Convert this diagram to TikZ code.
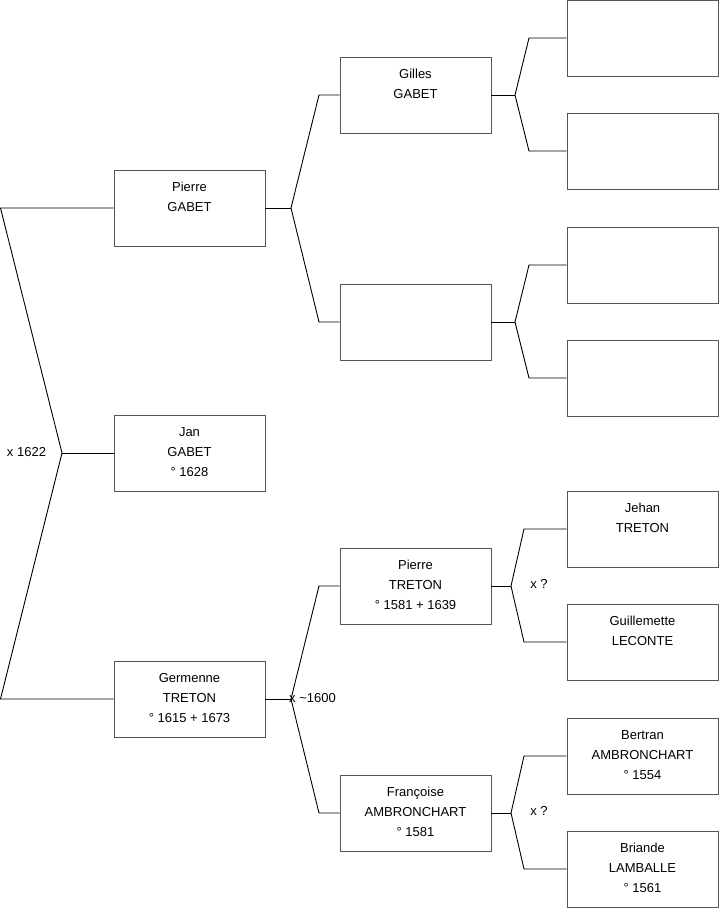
\documentclass[tikz,border=0pt]{standalone}
\usepackage{fontspec}
\setmainfont{Liberation Sans}
\definecolor{boxgray}{HTML}{555555}
\newcommand\famtxt[1]{\begin{minipage}[c][76pt][t]{151pt}\centering\fontsize{13pt}{20pt}\selectfont\rule{0pt}{21pt}#1\end{minipage}}
\begin{document}
\begin{tikzpicture}[x=1pt,y=-1pt,
  fam/.style={draw=boxgray, line width=0.9pt, inner sep=0pt, minimum width=151pt, minimum height=76pt},
  conn/.style={draw=black, line width=0.9pt},
  lab/.style={inner sep=0pt, font=\fontsize{13pt}{16pt}\selectfont}]
\useasboundingbox (0,0) rectangle (719,908);
% generation 1
\node[fam] (p1) at (189.5,208) {\famtxt{Pierre\\GABET}};
\node[fam] (p0) at (189.5,453) {\famtxt{Jan\\GABET\\° 1628}};
\node[fam] (m1) at (189.5,699) {\famtxt{Germenne\\TRETON\\° 1615 + 1673}};
% generation 2
\node[fam] (pp) at (415.5,95) {\famtxt{Gilles\\GABET}};
\node[fam] (pm) at (415.5,322) {};
\node[fam] (mp) at (415.5,586) {\famtxt{Pierre\\TRETON\\° 1581 + 1639}};
\node[fam] (mm) at (415.5,813) {\famtxt{Françoise\\AMBRONCHART\\° 1581}};
% generation 3
\node[fam] (ppp) at (642.5,38) {};
\node[fam] (ppm) at (642.5,151) {};
\node[fam] (pmp) at (642.5,265) {};
\node[fam] (pmm) at (642.5,378) {};
\node[fam] (mpp) at (642.5,529) {\famtxt{Jehan\\TRETON}};
\node[fam] (mpm) at (642.5,642) {\famtxt{Guillemette\\LECONTE}};
\node[fam] (mmp) at (642.5,756) {\famtxt{Bertran\\AMBRONCHART\\° 1554}};
\node[fam] (mmm) at (642.5,869) {\famtxt{Briande\\LAMBALLE\\° 1561}};
% root connector
\coordinate (r1) at (0.5,208);
\coordinate (r0) at (62,453);
\coordinate (r2) at (0.5,699);
\draw[conn] (p1.west) -- (r1) -- (r0) -- (r2) -- (m1.west);
\draw[conn] (r0) -- (p0.west);
\node[lab] (l0) at (26.5,452) {x 1622};
% Pierre GABET
\coordinate (a0) at (291,208);
\coordinate (a1) at (319,95);
\coordinate (a2) at (319,322);
\draw[conn] (p1.east) -- (a0);
\draw[conn] (pp.west) -- (a1) -- (a0) -- (a2) -- (pm.west);
% Germenne
\coordinate (b0) at (291,699);
\coordinate (b1) at (319,586);
\coordinate (b2) at (319,813);
\draw[conn] (m1.east) -- (b0);
\draw[conn] (mp.west) -- (b1) -- (b0) -- (b2) -- (mm.west);
\node[lab] (l1) at (312.5,698) {x \textasciitilde1600};
% Gilles
\coordinate (c0) at (515,95);
\coordinate (c1) at (529,38);
\coordinate (c2) at (529,151);
\draw[conn] (pp.east) -- (c0);
\draw[conn] (ppp.west) -- (c1) -- (c0) -- (c2) -- (ppm.west);
% empty
\coordinate (d0) at (515,322);
\coordinate (d1) at (529,265);
\coordinate (d2) at (529,378);
\draw[conn] (pm.east) -- (d0);
\draw[conn] (pmp.west) -- (d1) -- (d0) -- (d2) -- (pmm.west);
% Pierre TRETON
\coordinate (e0) at (511,586);
\coordinate (e1) at (524,529);
\coordinate (e2) at (524,642);
\draw[conn] (mp.east) -- (e0);
\draw[conn] (mpp.west) -- (e1) -- (e0) -- (e2) -- (mpm.west);
\node[lab] (l2) at (539,584) {x ?};
% Françoise
\coordinate (f0) at (511,813);
\coordinate (f1) at (524,756);
\coordinate (f2) at (524,869);
\draw[conn] (mm.east) -- (f0);
\draw[conn] (mmp.west) -- (f1) -- (f0) -- (f2) -- (mmm.west);
\node[lab] (l3) at (539,811) {x ?};
\end{tikzpicture}
\end{document}
